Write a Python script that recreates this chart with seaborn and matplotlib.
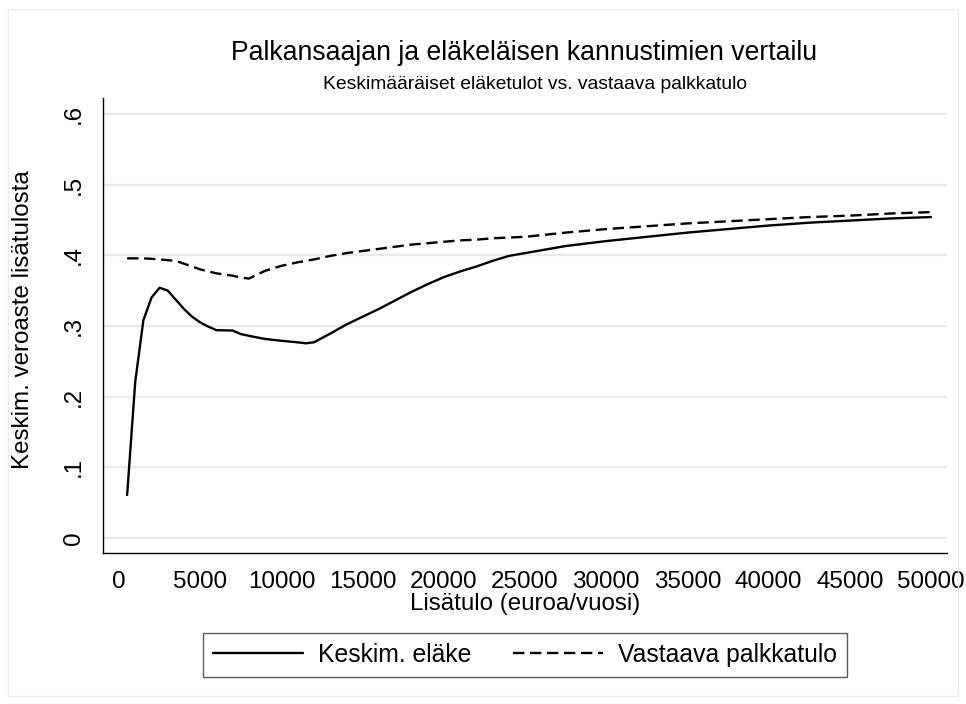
import matplotlib
matplotlib.use("Agg")
import matplotlib.pyplot as plt
import seaborn as sns
import pandas as pd
from matplotlib.patches import Rectangle

# ---- data ----
income = [500, 1000, 1500, 2000, 2500, 3000, 3500, 4000, 4500, 5000, 5500, 6000,
          7000, 7500, 8000, 9000, 10000, 11000, 11500, 12000, 13000, 14000, 15000,
          16000, 17000, 18000, 19000, 20000, 21000, 22000, 23000, 24000, 25000,
          27500, 30000, 32500, 35000, 37500, 40000, 42500, 45000, 47500, 50000]
pension = [0.061, 0.221, 0.308, 0.340, 0.354, 0.350, 0.337, 0.324, 0.313, 0.305, 0.299, 0.294,
           0.2935, 0.2885, 0.286, 0.2815, 0.279, 0.2768, 0.2754, 0.2768, 0.289, 0.302, 0.313,
           0.324, 0.336, 0.348, 0.359, 0.369, 0.377, 0.384, 0.392, 0.399, 0.403,
           0.413, 0.420, 0.426, 0.432, 0.437, 0.442, 0.446, 0.449, 0.452, 0.454]
wage = [0.3956, 0.3956, 0.3955, 0.395, 0.394, 0.393, 0.392, 0.388, 0.384, 0.380, 0.377, 0.3744,
        0.371, 0.3685, 0.367, 0.378, 0.385, 0.390, 0.392, 0.394, 0.399, 0.403, 0.406,
        0.409, 0.412, 0.415, 0.417, 0.419, 0.421, 0.422, 0.424, 0.425, 0.426,
        0.432, 0.437, 0.441, 0.445, 0.448, 0.451, 0.454, 0.456, 0.459, 0.461]
series_names = ["Keskim. eläke", "Vastaava palkkatulo"]
x_ticks = [0, 5000, 10000, 15000, 20000, 25000, 30000, 35000, 40000, 45000, 50000]
y_ticks = [0, 0.1, 0.2, 0.3, 0.4, 0.5, 0.6]
y_ticklabels = ["0", ".1", ".2", ".3", ".4", ".5", ".6"]
title = "Palkansaajan ja eläkeläisen kannustimien vertailu"
subtitle = "Keskimääräiset eläketulot vs. vastaava palkkatulo"
xlabel = "Lisätulo (euroa/vuosi)"
ylabel = "Keskim. veroaste lisätulosta"

df = pd.concat([
    pd.DataFrame({"x": income, "y": pension, "sarja": series_names[0]}),
    pd.DataFrame({"x": income, "y": wage, "sarja": series_names[1]}),
], ignore_index=True)

sns.set_theme(style="white")
plt.rcParams["font.family"] = ["Liberation Sans", "DejaVu Sans"]

W, H = 966, 704
fig = plt.figure(figsize=(W / 100, H / 100), dpi=100)
fig.patch.set_facecolor("white")
fig.add_artist(Rectangle((8 / W, 8 / H), (W - 16) / W, (H - 17) / H,
                         transform=fig.transFigure, fill=False,
                         edgecolor="#ececec", lw=1))

ax_l, ax_r, ax_t, ax_b = 103.3, 946.7, 98, 553
ax = fig.add_axes([ax_l / W, (H - ax_b) / H, (ax_r - ax_l) / W, (ax_b - ax_t) / H])

sns.lineplot(data=df, x="x", y="y", hue="sarja", style="sarja",
             palette={series_names[0]: "black", series_names[1]: "black"},
             dashes={series_names[0]: "", series_names[1]: (4.8, 2.4)},
             linewidth=1.7, ax=ax, legend=True)

ax.set_xlim(-967, 50967)
ax.set_ylim(-0.0212, 0.6224)
ax.set_xticks(x_ticks)
ax.set_xticklabels([str(v) for v in x_ticks])
ax.set_yticks(y_ticks)
ax.set_yticklabels(y_ticklabels, rotation=90, va="center")

for s in ["top", "right"]:
    ax.spines[s].set_visible(False)
for s in ["left", "bottom"]:
    ax.spines[s].set_color("black")
    ax.spines[s].set_linewidth(1.0)

ax.yaxis.grid(True, color="#eaeaea", lw=1.6)
ax.xaxis.grid(False)
ax.set_axisbelow(True)
ax.tick_params(axis="both", which="major", direction="out", length=7, width=1,
               color="black", labelsize=17.4, labelcolor="black")
ax.tick_params(axis="x", pad=6)
ax.tick_params(axis="y", pad=6)

ax.set_xlabel(xlabel, fontsize=17.4, color="black", va="top")
ax.xaxis.set_label_coords(0.5, -0.087)
ax.set_ylabel(ylabel, fontsize=17.4, color="black")
ax.yaxis.set_label_coords(-0.082, 0.512)

fig.text(524 / W, 1 - 60 / H, title, ha="center", va="baseline", fontsize=19.2, color="black")
fig.text(535 / W, 1 - 89 / H, subtitle, ha="center", va="baseline", fontsize=13.9, color="black")

handles, labels = ax.get_legend_handles_labels()
ax.get_legend().remove()
leg = fig.legend(handles, labels, loc="center", bbox_to_anchor=(525 / W, 1 - 655 / H),
                 ncol=2, fontsize=17.8, frameon=True, fancybox=False, shadow=False,
                 handlelength=3.64, handletextpad=0.61, columnspacing=1.66,
                 borderpad=0.42, borderaxespad=0)
leg.get_frame().set_edgecolor("#333333")
leg.get_frame().set_linewidth(1.0)
for t in leg.get_texts():
    t.set_color("black")

fig.savefig("out.png", dpi=100, facecolor="white")
